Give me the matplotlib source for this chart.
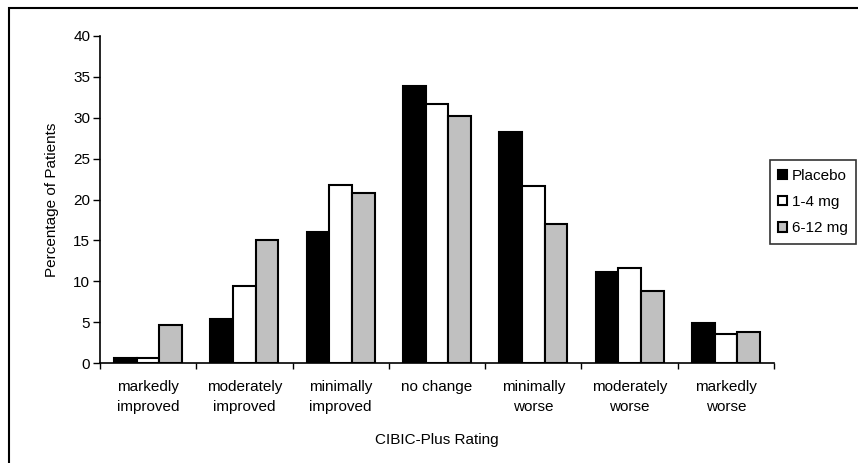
import numpy as np
import matplotlib
matplotlib.use("Agg")
import matplotlib.pyplot as plt
from matplotlib.patches import Rectangle

categories = ["markedly\nimproved", "moderately\nimproved", "minimally\nimproved",
              "no change", "minimally\nworse", "moderately\nworse", "markedly\nworse"]
series_names = ["Placebo", "1-4 mg", "6-12 mg"]
placebo = [0.6, 5.4, 16.0, 33.9, 28.3, 11.2, 4.9]
low_dose = [0.6, 9.4, 21.8, 31.7, 21.6, 11.6, 3.6]
high_dose = [4.7, 15.0, 20.8, 30.2, 17.0, 8.8, 3.8]
y_ticks = [0, 5, 10, 15, 20, 25, 30, 35, 40]

plt.rcParams["font.family"] = ["Liberation Sans", "DejaVu Sans"]
FS = 11

fig = plt.figure(figsize=(8.58, 4.63), dpi=100)
ax = fig.add_axes([100 / 858, 1 - 363.3 / 463, 674 / 858, 327.6 / 463])

# outer frame (only top and left visible in the original crop)
fig.patches.append(Rectangle((8.5 / 858, -0.1), 1.2, (463 - 7.5) / 463 + 0.1,
                             transform=fig.transFigure, fill=False,
                             edgecolor="black", linewidth=1.5))

x = np.arange(len(categories))
w = 0.235
colors = ["black", "white", "#c0c0c0"]
for i, (vals, name) in enumerate(zip([placebo, low_dose, high_dose], series_names)):
    ax.bar(x + (i - 1) * w, vals, width=w, color=colors[i], edgecolor="black",
           linewidth=1.5, label=name, zorder=3)

ax.set_xlim(-0.5, len(categories) - 0.5)
ax.set_ylim(0, 40)
ax.set_yticks(y_ticks)
ax.set_xticks(x)
ax.set_xticklabels(categories, fontsize=FS, linespacing=1.55)
ax.set_xticks(np.arange(-0.5, len(categories)), minor=True)
ax.tick_params(axis="x", which="major", length=0, pad=12)
ax.tick_params(axis="x", which="minor", length=4, width=1)
ax.tick_params(axis="y", length=5, width=1, labelsize=FS, pad=2)

for s in ["top", "right"]:
    ax.spines[s].set_visible(False)
for s in ["left", "bottom"]:
    ax.spines[s].set_linewidth(1.2)

ax.set_ylabel("Percentage of Patients", fontsize=FS, labelpad=10)
ax.set_xlabel("CIBIC-Plus Rating", fontsize=FS, labelpad=14)

leg = ax.legend(loc="center left", bbox_to_anchor=(770 / 858, 1 - 202 / 463),
                bbox_transform=fig.transFigure, fontsize=FS, frameon=True,
                fancybox=False, edgecolor="black", handlelength=0.55,
                handleheight=0.6, handletextpad=0.35, labelspacing=0.8,
                borderpad=0.55, borderaxespad=0)
leg.get_frame().set_linewidth(1.2)

fig.savefig("out.png", dpi=100)
